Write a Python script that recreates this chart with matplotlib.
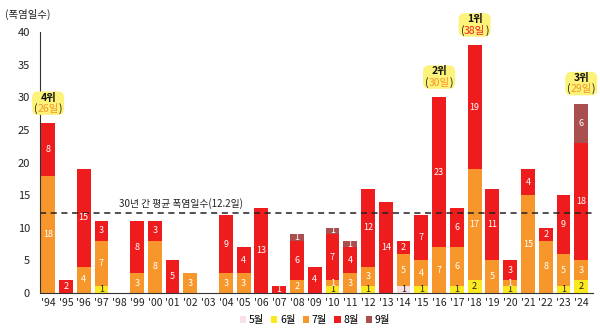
import matplotlib
matplotlib.use("Agg")
import matplotlib.pyplot as plt
import numpy as np
from matplotlib.patches import FancyBboxPatch, Patch

plt.rcParams['font.family'] = ['Noto Sans CJK KR', 'DejaVu Sans']

years = ["'94", "'95", "'96", "'97", "'98", "'99", "'00", "'01", "'02", "'03",
         "'04", "'05", "'06", "'07", "'08", "'09", "'10", "'11", "'12", "'13",
         "'14", "'15", "'16", "'17", "'18", "'19", "'20", "'21", "'22", "'23", "'24"]
may = [0, 0, 0, 0, 0, 0, 0, 0, 0, 0, 0, 0, 0, 0, 0, 0, 0, 0, 0, 0,
       1, 0, 0, 0, 0, 0, 0, 0, 0, 0, 0]
jun = [0, 0, 0, 1, 0, 0, 0, 0, 0, 0, 0, 0, 0, 0, 0, 0, 1, 0, 1, 0,
       0, 1, 0, 1, 2, 0, 1, 0, 0, 1, 2]
jul = [18, 0, 4, 7, 0, 3, 8, 0, 3, 0, 3, 3, 0, 0, 2, 0, 1, 3, 3, 0,
       5, 4, 7, 6, 17, 5, 1, 15, 8, 5, 3]
aug = [8, 2, 15, 3, 0, 8, 3, 5, 0, 0, 9, 4, 13, 1, 6, 4, 7, 4, 12, 14,
       2, 7, 23, 6, 19, 11, 3, 4, 2, 9, 18]
sep = [0, 0, 0, 0, 0, 0, 0, 0, 0, 0, 0, 0, 0, 0, 1, 0, 1, 1, 0, 0,
       0, 0, 0, 0, 0, 0, 0, 0, 0, 0, 6]
month_names = ['5월', '6월', '7월', '8월', '9월']
avg_days = 12.2

# rank boxes: (year index, rank label, days)
rank_idx = [0, 22, 24, 30]
rank_text = ['4위', '2위', '1위', '3위']
rank_days = ['26일', '30일', '38일', '29일']
rank_colors = ['#f7962b', '#f7962b', '#ee2222', '#f7962b']

colors = ['#fbe0e3', '#fbe91e', '#f7962b', '#ee1c1c', '#a94f4f']
label_colors = ['#222222', '#222222', 'white', 'white', 'white']

fig = plt.figure(figsize=(6, 3.31), dpi=100)
ax = fig.add_axes([0.066, 0.115, 0.922, 0.788])

x = np.arange(len(years))
bottom = np.zeros(len(years))
width = 0.78
for vals, c, lc in zip([may, jun, jul, aug, sep], colors, label_colors):
    vals = np.array(vals, dtype=float)
    ax.bar(x, vals, width, bottom=bottom, color=c, edgecolor='none', zorder=2)
    for xi, v, b in zip(x, vals, bottom):
        if v > 0:
            ax.text(xi, b + v / 2, str(int(v)), ha='center', va='center',
                    color=lc, fontsize=6.5, zorder=4)
    bottom += vals

# average line
ax.axhline(avg_days, color='#222222', linestyle=(0, (4, 3)), linewidth=1.1, zorder=3)
ax.text(7.5, avg_days + 0.6, '30년 간 평균 폭염일수(12.2일)', ha='center', va='bottom',
        fontsize=7, color='#222222')

# rank boxes
for i, rt, rd, rc in zip(rank_idx, rank_text, rank_days, rank_colors):
    top = bottom[i]
    bw, bh = 1.8, 3.6
    y0 = top + 1.3
    box = FancyBboxPatch((i - bw / 2, y0), bw, bh,
                         boxstyle='round,pad=0,rounding_size=0.35',
                         mutation_aspect=2.7, facecolor='#fdf27a',
                         edgecolor='none', zorder=5, clip_on=False)
    ax.add_patch(box)
    ax.text(i, y0 + bh * 0.74, rt, ha='center', va='center', fontsize=7.5,
            fontweight='bold', color='#111111', zorder=6, clip_on=False)
    t = ax.text(i, y0 + bh * 0.25, rd, ha='center', va='center', fontsize=7.5,
                color=rc, zorder=6, clip_on=False)
    ax.annotate('(', xy=(0, 0), xycoords=t, ha='right', va='bottom',
                fontsize=7.5, color='#111111', zorder=6)
    ax.annotate(')', xy=(1, 0), xycoords=t, ha='left', va='bottom',
                fontsize=7.5, color='#111111', zorder=6)

ax.set_xlim(-0.48, 30.65)
ax.set_ylim(0, 40)
ax.set_yticks(range(0, 41, 5))
ax.set_xticks(x)
ax.set_xticklabels(years)
ax.tick_params(axis='y', length=0, pad=7, labelsize=8, labelcolor='#222222')
ax.tick_params(axis='x', length=0, pad=4, labelsize=7.5, labelcolor='#222222')
for s in ['top', 'right']:
    ax.spines[s].set_visible(False)
ax.spines['left'].set_color('#333333')
ax.spines['bottom'].set_color('#333333')
ax.spines['left'].set_linewidth(0.8)
ax.spines['bottom'].set_linewidth(0.8)

fig.text(0.008, 0.955, '(폭염일수)', fontsize=7.5, color='#222222', va='center')

handles = [Patch(facecolor=c, edgecolor='none') for c in colors]
fig.legend(handles, month_names, loc='center', bbox_to_anchor=(0.525, 0.033),
           ncol=5, frameon=False, fontsize=7.5, handlelength=0.6, handleheight=0.6,
           handletextpad=0.25, columnspacing=0.7)

fig.savefig('out.png', dpi=100)
